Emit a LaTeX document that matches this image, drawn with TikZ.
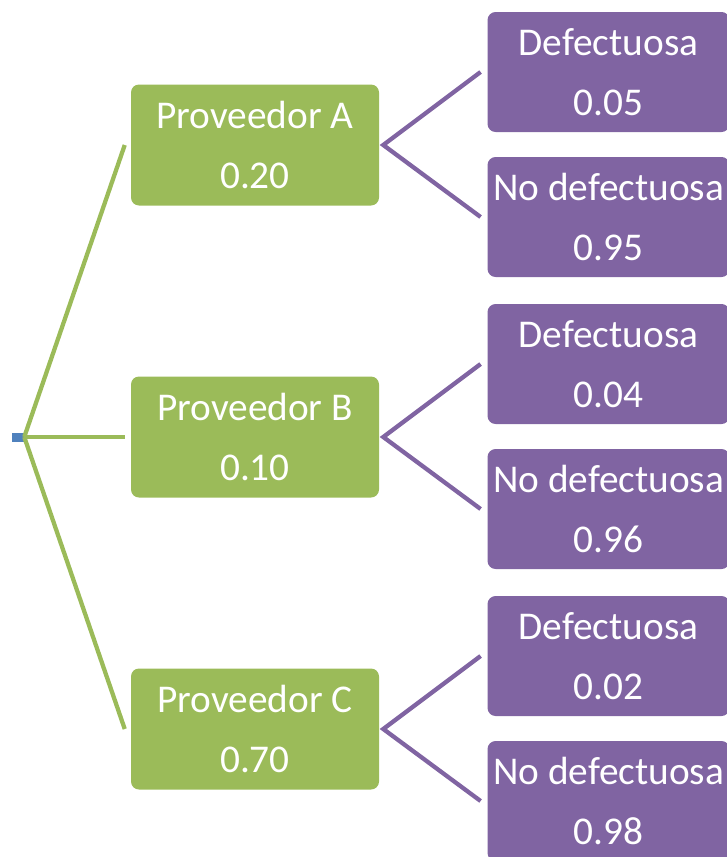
\documentclass[tikz,border=0pt]{standalone}
\usepackage{fontspec}
\setmainfont{Carlito}
\usepackage{tikz}
\usetikzlibrary{positioning}
\definecolor{treegreen}{HTML}{9BBB59}
\definecolor{treepurple}{HTML}{8064A2}
\definecolor{treeblue}{HTML}{4F81BD}

\begin{document}
\begin{tikzpicture}[
  x=0.75pt, y=-0.75pt,
  gbox/.style={
    fill=treegreen, rounded corners=6pt, minimum width=186pt, minimum height=90.75pt,
    align=center, text=white, inner sep=0pt, font=\fontsize{29.5}{45}\selectfont,
  },
  pbox/.style={
    fill=treepurple, rounded corners=6pt, minimum width=181.5pt, minimum height=90pt,
    align=center, text=white, inner sep=0pt, font=\fontsize{29.5}{45}\selectfont,
  },
  gline/.style={draw=treegreen, line width=3.2pt},
  pline/.style={draw=treepurple, line width=3.2pt},
]
\useasboundingbox (0,0) rectangle (726,857);

\node[fill=treeblue, minimum width=9pt, minimum height=6.75pt, inner sep=0pt] (root) at (18,437) {};

\node[gbox] (provA) at (255,145) {Proveedor A\\0.20};
\node[gbox] (provB) at (255,437) {Proveedor B\\0.10};
\node[gbox] (provC) at (255,729) {Proveedor C\\0.70};

\node[pbox, right=81pt of provA, yshift=54.75pt] (defA) {Defectuosa\\0.05};
\node[pbox, right=81pt of provA, yshift=-54pt] (nodefA) {No defectuosa\\0.95};
\node[pbox, right=81pt of provB, yshift=54.75pt] (defB) {Defectuosa\\0.04};
\node[pbox, right=81pt of provB, yshift=-54pt] (nodefB) {No defectuosa\\0.96};
\node[pbox, right=81pt of provC, yshift=54.75pt] (defC) {Defectuosa\\0.02};
\node[pbox, right=81pt of provC, yshift=-54pt] (nodefC) {No defectuosa\\0.98};

% green branches
\draw[gline] (root.east) -- ([xshift=-4.5pt]provA.west);
\draw[gline] (root.east) -- ([xshift=-4.5pt]provB.west);
\draw[gline] (root.east) -- ([xshift=-4.5pt]provC.west);

% purple branches
\draw[pline] ([xshift=-5pt]defA.west) -- ([xshift=3pt]provA.east) -- ([xshift=-5pt]nodefA.west);
\draw[pline] ([xshift=-5pt]defB.west) -- ([xshift=3pt]provB.east) -- ([xshift=-5pt]nodefB.west);
\draw[pline] ([xshift=-5pt]defC.west) -- ([xshift=3pt]provC.east) -- ([xshift=-5pt]nodefC.west);

\end{tikzpicture}
\end{document}
